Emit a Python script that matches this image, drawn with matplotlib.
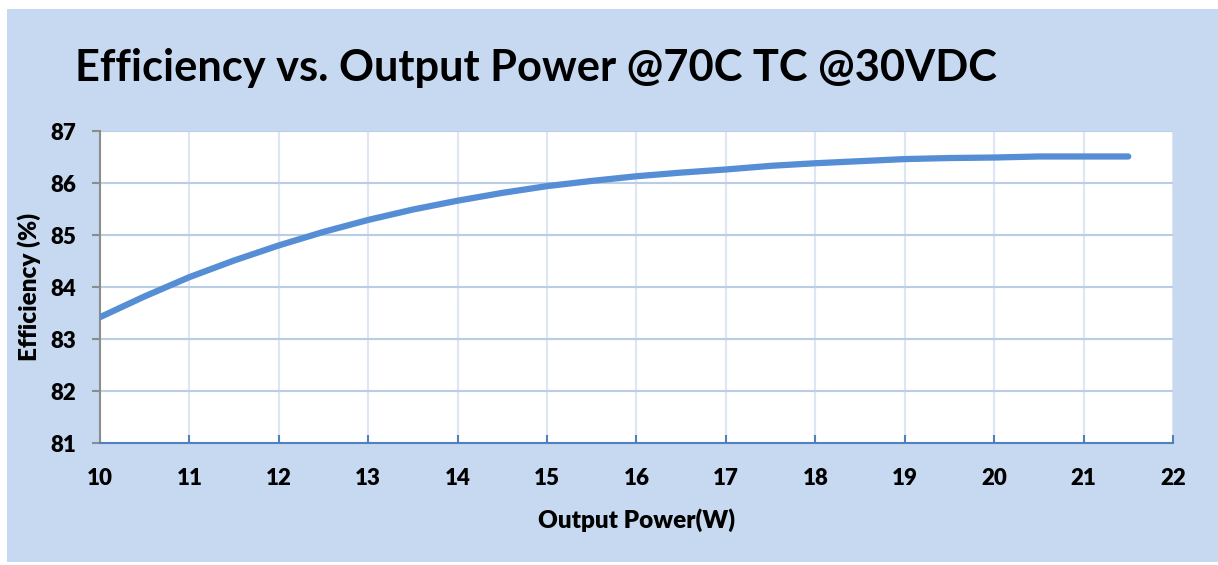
import matplotlib.pyplot as plt
from matplotlib.patches import Rectangle

power = [10, 10.5, 11, 11.5, 12, 12.5, 13, 13.5, 14, 14.5, 15, 15.5,
         16, 16.5, 17, 17.5, 18, 18.5, 19, 19.5, 20, 20.5, 21, 21.5]
efficiency = [83.42, 83.82, 84.19, 84.51, 84.80, 85.06, 85.29, 85.49, 85.66, 85.81,
              85.94, 86.04, 86.13, 86.20, 86.26, 86.33, 86.38, 86.42, 86.46, 86.48,
              86.49, 86.51, 86.51, 86.51]
xticks = list(range(10, 23))
yticks = list(range(81, 88))

plt.rcParams['font.family'] = ['Lato', 'DejaVu Sans']
plt.rcParams['font.weight'] = 'heavy'

fig = plt.figure(figsize=(12.18, 5.65), dpi=100, facecolor='white')
fig.patches.append(Rectangle((7 / 1218, 3 / 565), 1 - 7 / 1218, 553 / 565,
                             transform=fig.transFigure, facecolor='#c6d9f0',
                             edgecolor='none', zorder=-10))

ax = fig.add_axes([100 / 1218, 122 / 565, 1073 / 1218, 312 / 565])
ax.set_facecolor('white')
ax.plot(power, efficiency, color='#558ed5', lw=4.5, solid_capstyle='round', zorder=3)

ax.set_xlim(10, 22)
ax.set_ylim(81, 87)
ax.set_xticks(xticks)
ax.set_yticks(yticks)

for v in xticks[1:]:
    ax.axvline(v, color='#dce6f4', lw=1.5, zorder=1)
for v in yticks[1:]:
    ax.axhline(v, color='#b9cde5', lw=1.5, zorder=1)

for s in ['top', 'right']:
    ax.spines[s].set_visible(False)
ax.spines['left'].set_color('#8c8c8c')
ax.spines['left'].set_linewidth(1.5)
ax.spines['bottom'].set_color('#4f81bd')
ax.spines['bottom'].set_linewidth(1.5)

ax.tick_params(axis='y', direction='out', length=6, width=1.5, color='#8c8c8c',
               pad=11, labelsize=16)
ax.tick_params(axis='x', direction='in', length=6, width=1.5, color='#4f81bd',
               pad=18, labelsize=16)

ax.set_xlabel('Output Power(W)', fontsize=17.5, fontweight='heavy', labelpad=14)
ax.set_ylabel('Efficiency (%)', fontsize=17.5, fontweight='heavy', labelpad=7)

fig.text(75 / 1218, 1 - 68 / 565, 'Efficiency vs. Output Power @70C TC @30VDC',
         fontsize=31.2, fontweight='bold', va='center', ha='left')

fig.savefig('out.png', dpi=100, facecolor=fig.get_facecolor())
